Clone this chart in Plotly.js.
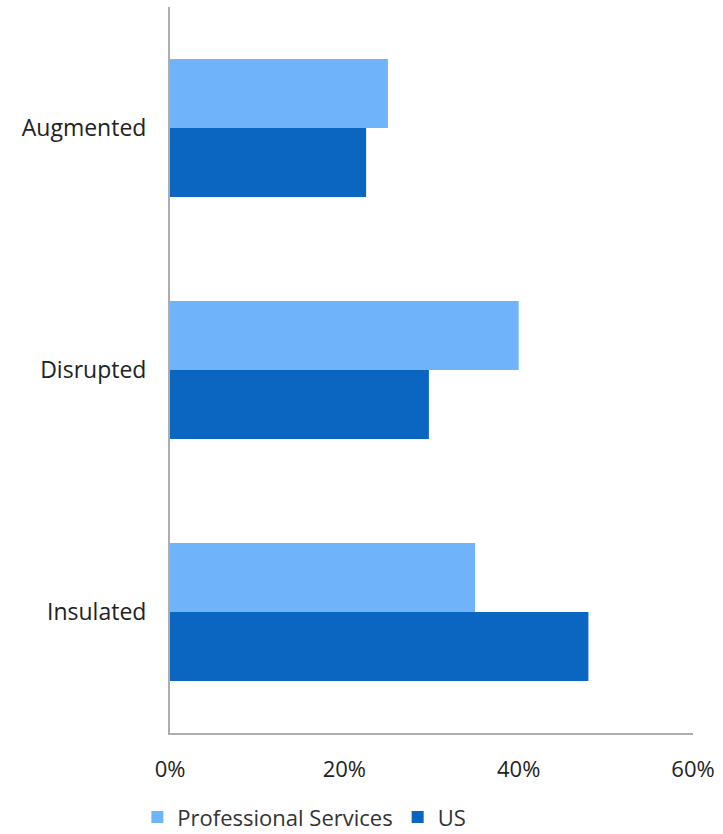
<!DOCTYPE html>
<html>
<head>
<meta charset="utf-8">
<script src="https://cdn.plot.ly/plotly-3.0.1.min.js"></script>
<style>
  html, body { margin: 0; padding: 0; background: #fff; }
  #chart { width: 723px; height: 834px; }
</style>
</head>
<body>
<div id="chart"></div>
<script>
// Share of jobs by AI exposure group
const categories = ['Augmented', 'Disrupted', 'Insulated'];
const professionalServices = [0.25, 0.40, 0.35];
const us = [0.225, 0.297, 0.48];
const xTickValues = [0, 0.2, 0.4, 0.6];
const xTickLabels = ['0%', '20%', '40%', '60%'];

const fontFamily = '"Open Sans", Lato, sans-serif';

const traces = [
  {
    type: 'bar',
    orientation: 'h',
    name: 'Professional Services',
    y: categories,
    x: professionalServices,
    marker: { color: '#6FB4FA' },
    hoverinfo: 'x+y'
  },
  {
    type: 'bar',
    orientation: 'h',
    name: 'US',
    y: categories,
    x: us,
    marker: { color: '#0B66C2' },
    hoverinfo: 'x+y'
  }
];

const layout = {
  width: 723,
  height: 834,
  margin: { l: 170, r: 30, t: 7, b: 101 },
  paper_bgcolor: '#fff',
  plot_bgcolor: '#fff',
  barmode: 'group',
  bargap: 0.43,
  bargroupgap: 0,
  font: { family: fontFamily, color: '#222', size: 22 },
  xaxis: {
    range: [0, 0.6],
    tickvals: xTickValues,
    ticktext: xTickLabels,
    showgrid: false,
    zeroline: false,
    showline: true,
    linecolor: '#ADADAD',
    linewidth: 2,
    ticks: '',
    ticklabelstandoff: 16,
    tickfont: { size: 22, color: '#222' },
    fixedrange: true
  },
  yaxis: {
    autorange: 'reversed',
    showgrid: false,
    zeroline: false,
    showline: true,
    linecolor: '#ADADAD',
    linewidth: 2,
    ticks: '',
    ticklabelstandoff: 17,
    tickfont: { size: 23, color: '#222' },
    fixedrange: true
  },
  showlegend: true,
  legend: {
    orientation: 'h',
    xref: 'container',
    x: 0.19,
    xanchor: 'left',
    yref: 'container',
    y: 0.02,
    yanchor: 'middle',
    font: { size: 22, color: '#333' },
    tracegroupgap: 0
  }
};

Plotly.newPlot('chart', traces, layout, { displayModeBar: false, staticPlot: true });
</script>
</body>
</html>
